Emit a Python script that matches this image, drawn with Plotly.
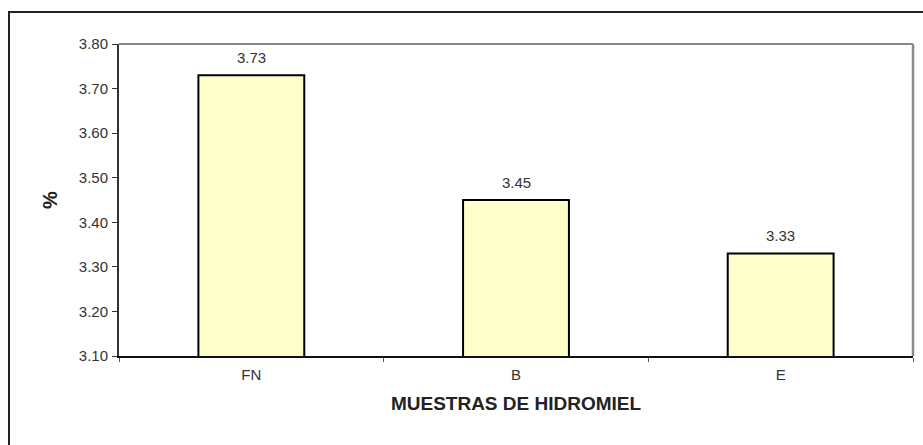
import plotly.graph_objects as go

# Hydromel samples and measured percentage
muestras = ["FN", "B", "E"]
porcentaje = [3.73, 3.45, 3.33]
y_ticks = [3.10, 3.20, 3.30, 3.40, 3.50, 3.60, 3.70, 3.80]

W, H = 923, 445
L, R, T, B = 119, 10, 44, 89
pw, ph = W - L - R, H - T - B

FONT = "Liberation Sans, Arial, sans-serif"

fig = go.Figure()
fig.add_trace(go.Bar(
    x=muestras,
    y=porcentaje,
    width=0.4,
    marker=dict(color="#FFFFCC", line=dict(color="#000000", width=2)),
    hoverinfo="skip",
))

# value labels above each bar
for m, v in zip(muestras, porcentaje):
    fig.add_annotation(
        x=m, y=v, text=f"{v:.2f}", showarrow=False,
        yanchor="bottom", yshift=7,
        font=dict(family=FONT, size=15, color="#333333"),
    )

font_tick = dict(family=FONT, size=15, color="#333333")

fig.update_layout(
    width=W, height=H,
    margin=dict(l=L, r=R, t=T, b=B),
    paper_bgcolor="white",
    plot_bgcolor="white",
    showlegend=False,
    xaxis=dict(
        showgrid=False, zeroline=False,
        showline=True, linecolor="#111111", linewidth=2,
        ticks="outside", tickson="boundaries", ticklen=4, tickcolor="#555555", tickwidth=1,
        tickfont=font_tick, ticklabelstandoff=4,
        title=dict(text="<b>MUESTRAS DE HIDROMIEL</b>", standoff=15,
                   font=dict(family=FONT, size=19, color="#222222")),
    ),
    yaxis=dict(
        range=[3.10, 3.80],
        tickvals=y_ticks,
        ticktext=[f"{t:.2f}" for t in y_ticks],
        showgrid=False, zeroline=False,
        showline=True, linecolor="#333333", linewidth=2,
        ticks="outside", ticklen=5, tickcolor="#333333", tickwidth=1,
        tickfont=font_tick, ticklabelstandoff=1,
        title=dict(text="<b>%</b>", standoff=16,
                   font=dict(family=FONT, size=20, color="#222222")),
    ),
    shapes=[
        # gray frame on top and right of plotting area
        dict(type="line", xref="paper", yref="paper", x0=0, x1=1, y0=1, y1=1,
             line=dict(color="#8a8a8a", width=2)),
        dict(type="line", xref="paper", yref="paper", x0=1, x1=1, y0=0, y1=1,
             line=dict(color="#8a8a8a", width=2.5)),
        # outer chart border
        dict(type="rect", xref="paper", yref="paper",
             x0=(9 - L) / pw, x1=(W + 20 - L) / pw,
             y0=-(B + 20) / ph, y1=(H - B - 12) / ph,
             line=dict(color="#222222", width=2), layer="above"),
    ],
)

fig.write_html("out.html")
